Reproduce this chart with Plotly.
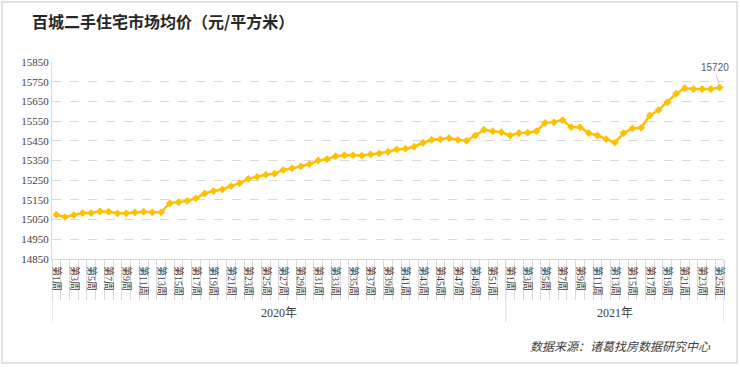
import plotly.graph_objects as go

years = ["2020年", "2021年"]
weeks_2020 = [f"第{i}周" for i in range(1, 53)]
weeks_2021 = [f"第{i}周" for i in range(1, 26)]

prices_2020 = [15075, 15063, 15073, 15083, 15083, 15092, 15090, 15082, 15082, 15087,
               15090, 15087, 15087, 15133, 15138, 15145, 15158, 15183, 15195, 15203,
               15220, 15235, 15257, 15267, 15278, 15283, 15302, 15310, 15320, 15332,
               15350, 15357, 15372, 15377, 15377, 15375, 15381, 15386, 15394, 15406,
               15410, 15420, 15440, 15455, 15458, 15464, 15455, 15450, 15477, 15506,
               15499, 15494]
prices_2021 = [15477, 15489, 15491, 15499, 15541, 15544, 15555, 15519, 15519, 15489,
               15477, 15458, 15441, 15489, 15513, 15516, 15579, 15606, 15645, 15689,
               15717, 15713, 15713, 15713, 15720]

y_ticks = [14850, 14950, 15050, 15150, 15250, 15350, 15450, 15550, 15650, 15750, 15850]

title_text = "百城二手住宅市场均价（元/平方米）"
source_text = "数据来源：诸葛找房数据研究中心"

weeks = weeks_2020 + weeks_2021
prices = prices_2020 + prices_2021
xs = list(range(len(weeks)))
n20 = len(weeks_2020)
n_all = len(weeks)

tickvals = [i for i in xs if int(weeks[i][1:-1]) % 2 == 1]
ticktext = [weeks[i] for i in tickvals]
boundaries = [i - 0.5 for i in range(n_all + 1)]

serif = "Liberation Serif, Noto Sans CJK SC, serif"

fig = go.Figure()
fig.add_trace(go.Scatter(
    x=xs, y=prices, mode="lines+markers",
    line=dict(color="#FFC000", width=2.5),
    marker=dict(symbol="diamond", size=6, color="#FFC000"),
    hoverinfo="y", showlegend=False,
))

W, H = 740, 367
L, R, T, B = 52, 16, 62, 108
pw, ph = W - L - R, H - T - B

def px_x(p):
    return (p - L) / pw

def px_y(p):
    return (H - B - p) / ph

shapes = []
# outer border
shapes.append(dict(type="rect", xref="paper", yref="paper",
                   x0=px_x(2), x1=px_x(737), y0=px_y(2), y1=px_y(363),
                   line=dict(color="#d9d9d9", width=1.5), fillcolor="rgba(0,0,0,0)", layer="below"))
# group dividers
for xv in [-0.5, n20 - 0.5, n_all - 0.5]:
    shapes.append(dict(type="line", xref="x", yref="paper", x0=xv, x1=xv,
                       y0=0, y1=px_y(322), line=dict(color="#d9d9d9", width=1)))

annotations = [
    dict(text=title_text, xref="paper", yref="paper", x=px_x(30), y=px_y(21),
         xanchor="left", yanchor="middle", showarrow=False,
         font=dict(family="Noto Sans CJK SC", size=16, color="#262626", weight="bold")),
    dict(text=years[0], xref="x", yref="paper", x=(n20 - 1) / 2, y=px_y(313),
         xanchor="center", yanchor="middle", showarrow=False,
         font=dict(family=serif, size=12, color="#404040")),
    dict(text=years[1], xref="x", yref="paper", x=n20 + (len(weeks_2021) - 1) / 2, y=px_y(313),
         xanchor="center", yanchor="middle", showarrow=False,
         font=dict(family=serif, size=12, color="#404040")),
    dict(text=f"<i>{source_text}</i>", xref="paper", yref="paper", x=px_x(713), y=px_y(347),
         xanchor="right", yanchor="middle", showarrow=False,
         font=dict(family=serif, size=12, color="#404040")),
    dict(text=str(prices[-1]), xref="x", yref="y", x=xs[-1], y=prices[-1],
         showarrow=True, arrowhead=0, arrowwidth=0.8, arrowcolor="#bfbfbf",
         ax=-5, ay=-20, standoff=2,
         font=dict(family="Liberation Sans, Arial, sans-serif", size=10, color="#595959")),
]

fig.update_layout(
    width=W, height=H,
    margin=dict(l=L, r=R, t=T, b=B),
    paper_bgcolor="white", plot_bgcolor="white",
    shapes=shapes, annotations=annotations,
    xaxis=dict(
        range=[-0.5, n_all - 0.5], automargin=False,
        tickmode="array", tickvals=tickvals, ticktext=ticktext,
        tickangle=90, ticks="", showgrid=False, zeroline=False,
        ticklabelstandoff=4,
        tickfont=dict(family=serif, size=10, color="#404040"),
        showline=True, linecolor="#d9d9d9", linewidth=1,
        minor=dict(tickmode="array", tickvals=boundaries, ticks="outside",
                   ticklen=40, tickcolor="#d9d9d9", tickwidth=1, showgrid=False),
        fixedrange=True,
    ),
    yaxis=dict(
        range=[14850, 15850], automargin=False,
        tickmode="array", tickvals=y_ticks, ticktext=[str(v) for v in y_ticks],
        showgrid=True, gridcolor="#d9d9d9", griddash="dash", gridwidth=1,
        zeroline=False, showline=True, linecolor="#d9d9d9", linewidth=1,
        tickfont=dict(family=serif, size=11, color="#404040"),
        ticks="", fixedrange=True,
    ),
)

fig.write_html("out.html", config={"displayModeBar": False},
               post_script="document.body.style.margin='0';document.body.style.overflow='hidden';")
